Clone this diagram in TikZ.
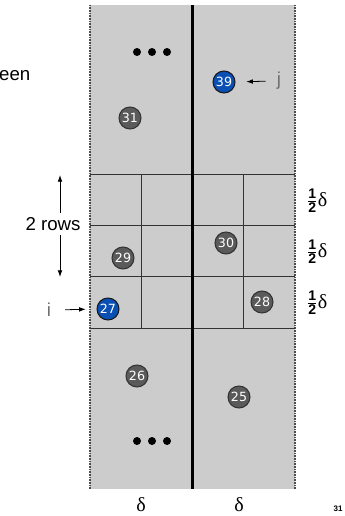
\documentclass[tikz,border=0pt]{standalone}
\usepackage{fontspec}
\setmainfont{Liberation Sans}
\newfontfamily\numfont{DejaVu Sans}
\newfontfamily\greekfont{Liberation Serif}
\usetikzlibrary{arrows.meta}
\definecolor{stripgrey}{HTML}{CCCCCC}
\definecolor{ptgrey}{HTML}{5A5A5A}
\definecolor{ptblue}{HTML}{0A50B4}
\definecolor{lblgrey}{HTML}{707070}

\begin{document}
\begin{tikzpicture}[x=0.75pt,y=-0.75pt]
	% Define styles
	\tikzset{
		pt/.style={circle, draw=black!80, line width=0.8pt, fill=ptgrey, text=white, minimum size=16.5pt, inner sep=0pt, font=\numfont\fontsize{9.5}{9.5}\selectfont},
		ptsel/.style={pt, fill=ptblue, draw=black!90},
		dot/.style={circle, fill=black, minimum size=6pt, inner sep=0pt},
		gridline/.style={draw=black!80, line width=0.6pt},
		line/.style={draw, -{Latex[length=5pt,width=3.5pt]}, line width=0.6pt},
		lbl/.style={font=\fontsize{14}{14}\selectfont},
		width/.style={font=\greekfont\fontsize{15}{15}\selectfont}
	}
	\useasboundingbox (0,0) rectangle (345,516);
	% Strip and grid
	\fill[stripgrey] (90,5) rectangle (295,489);
	\draw[black!70, line width=0.8pt, dash pattern=on 0.6pt off 0.6pt] (90,5) -- (90,489);
	\draw[black!70, line width=0.8pt, dash pattern=on 0.6pt off 0.6pt] (295,5) -- (295,489);
	\foreach \y in {174,225.3,276.7,328}
		\draw[gridline] (90,\y) -- (295,\y);
	\foreach \x in {141.3,243.7}
		\draw[gridline] (\x,174) -- (\x,328);
	\draw[line width=1.6pt] (192.5,5) -- (192.5,489);
	
	% Nodes
	\node[lbl, anchor=east] (between) at (35,76) {een};
	
	\foreach \x [count=\i] in {137,152,167} {
		\node[dot] (dt\i) at (\x,52) {};
		\node[dot] (db\i) at (\x,441) {};
	}
	
	\node[ptsel] (p39) at (224,82) {39};
	\node[pt] (p31) at (130,118) {31};
	\node[pt] (p30) at (226,243) {30};
	\node[pt] (p29) at (123,258) {29};
	\node[pt] (p28) at (262,302) {28};
	\node[ptsel] (p27) at (108,309) {27};
	\node[pt] (p26) at (137,376) {26};
	\node[pt] (p25) at (239,397) {25};
	
	\node[lbl, text=lblgrey] (lblj) at (279,81) {j};
	\node[lbl, text=lblgrey] (lbli) at (49,310) {i};
	
	\node[lbl] (rows) at (53,224) {2 rows};
	\coordinate (rtop) at (60,175);
	\coordinate (rbot) at (60,277);
	
	\foreach \y [count=\i] in {201,252,303}
		\node[width] (h\i) at (317,\y) {$\frac{\mathbf{1}}{\mathbf{2}}$δ};
	\node[width] (d1) at (141,505) {δ};
	\node[width] (d2) at (239,505) {δ};
	
	\node[font=\bfseries\fontsize{6}{6}\selectfont] (page) at (338,509) {31};
	
	% Arrows
	\draw[line, shorten <=5pt, shorten >=8pt] (lblj.west) -- (p39.east);
	\draw[line, shorten <=7pt, shorten >=8pt] (lbli.east) -- (p27.west);
	\draw[line] (rtop |- rows.north) -- (rtop);
	\draw[line] (rbot |- rows.south) -- (rbot);
\end{tikzpicture}
\end{document}
